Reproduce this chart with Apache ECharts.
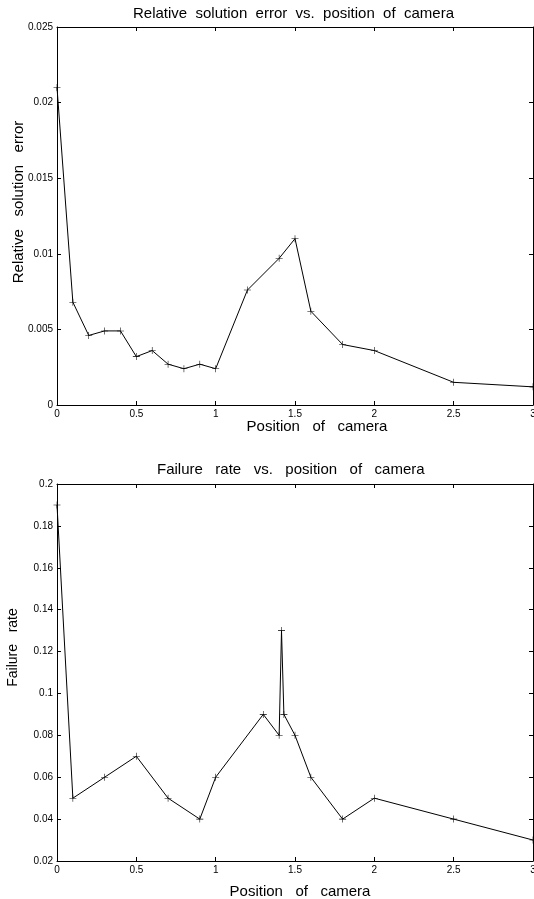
<!DOCTYPE html>
<html>
<head>
<meta charset="utf-8">
<script src="https://cdn.jsdelivr.net/npm/echarts@6/dist/echarts.min.js"></script>
<style>
  html, body { margin: 0; padding: 0; background: #fff; }
  #chart { width: 534px; height: 899px; }
</style>
</head>
<body>
<div id="chart"></div>
<script>
// top plot: relative solution error
var errX = [0, 0.1, 0.2, 0.3, 0.4, 0.5, 0.6, 0.7, 0.8, 0.9, 1.0, 1.2, 1.4, 1.5, 1.6, 1.8, 2.0, 2.5, 3.0];
var errY = [0.021, 0.0068, 0.0046, 0.0049, 0.0049, 0.0032, 0.0036, 0.0027, 0.0024, 0.0027, 0.0024,
            0.0076, 0.0097, 0.011, 0.0062, 0.0040, 0.0036, 0.0015, 0.0012];

// bottom plot: failure rate
var failX = [0, 0.1, 0.3, 0.5, 0.7, 0.9, 1.0, 1.3, 1.4, 1.415, 1.43, 1.5, 1.6, 1.8, 2.0, 2.5, 3.0];
var failY = [0.19, 0.05, 0.06, 0.07, 0.05, 0.04, 0.06, 0.09, 0.08, 0.13, 0.09, 0.08, 0.06, 0.04, 0.05, 0.04, 0.03];

var FONT = 'Liberation Sans';
var plus = 'path://M4.6,0H5.4V10H4.6Z M0,4.6H10V5.4H0Z';

function pairs(xs, ys) {
  var out = [];
  for (var i = 0; i < xs.length; i++) out.push([xs[i], ys[i]]);
  return out;
}

function xAxes(gi, name, gap, shift) {
  return [
    {
      gridIndex: gi, type: 'value', position: 'bottom', min: 0, max: 3, interval: 0.5,
      name: name, nameLocation: 'middle', nameGap: gap, nameMoveOverlap: false,
      nameTextStyle: { fontFamily: FONT, fontSize: 15, color: '#000', padding: [0, 0, 0, shift] },
      axisLine: { onZero: false, lineStyle: { color: '#000', width: 1 } },
      axisTick: { inside: true, length: 4, lineStyle: { color: '#000' } },
      axisLabel: { fontFamily: FONT, fontSize: 10, color: '#000', margin: 4 },
      splitLine: { show: false }
    },
    {
      gridIndex: gi, type: 'value', position: 'top', min: 0, max: 3, interval: 0.5,
      axisLine: { onZero: false, lineStyle: { color: '#000', width: 1 } },
      axisTick: { inside: true, length: 4, lineStyle: { color: '#000' } },
      axisLabel: { show: false },
      splitLine: { show: false }
    }
  ];
}

function yAxes(gi, name, min, max, step, gap, size, shift) {
  return [
    {
      gridIndex: gi, type: 'value', position: 'left', min: min, max: max, interval: step,
      name: name, nameLocation: 'middle', nameGap: gap, nameRotate: 90, nameMoveOverlap: false,
      nameTextStyle: { fontFamily: FONT, fontSize: size, color: '#000', padding: [0, 0, 0, shift] },
      axisLine: { show: true, onZero: false, lineStyle: { color: '#000', width: 1 } },
      axisTick: { show: true, inside: true, length: 4, lineStyle: { color: '#000' } },
      axisLabel: { fontFamily: FONT, fontSize: 10, color: '#000', margin: 4 },
      splitLine: { show: false }
    },
    {
      gridIndex: gi, type: 'value', position: 'right', min: min, max: max, interval: step,
      axisLine: { show: true, onZero: false, lineStyle: { color: '#000', width: 1 } },
      axisTick: { show: true, inside: true, length: 4, lineStyle: { color: '#000' } },
      axisLabel: { show: false },
      splitLine: { show: false }
    }
  ];
}

function lineSeries(xi, yi, data) {
  return {
    type: 'line', xAxisIndex: xi, yAxisIndex: yi, data: data,
    symbol: plus, symbolSize: 7, showAllSymbol: true,
    itemStyle: { color: '#000' },
    lineStyle: { color: '#000', width: 1 },
    silent: true
  };
}

var chart = echarts.init(document.getElementById('chart'));
chart.setOption({
  animation: false,
  backgroundColor: '#fff',
  title: [
    { text: 'Relative  solution  error  vs.  position  of  camera', left: 128, top: 1,
      textStyle: { fontFamily: FONT, fontSize: 15, fontWeight: 'normal', color: '#000' } },
    { text: 'Failure   rate   vs.   position   of   camera', left: 152, top: 457,
      textStyle: { fontFamily: FONT, fontSize: 15, fontWeight: 'normal', color: '#000' } }
  ],
  grid: [
    { left: 57, right: 1, top: 27, height: 378, containLabel: false, outerBoundsMode: 'none' },
    { left: 57, right: 1, top: 484, height: 377, containLabel: false, outerBoundsMode: 'none' }
  ],
  xAxis: xAxes(0, 'Position   of   camera', 14, 44).concat(xAxes(1, 'Position   of   camera', 23, 10)),
  yAxis: yAxes(0, 'Relative   solution   error', 0, 0.025, 0.005, 31, 15, 28)
    .concat(yAxes(1, 'Failure   rate', 0.02, 0.2, 0.02, 37, 14, 50)),
  series: [
    lineSeries(0, 0, pairs(errX, errY)),
    lineSeries(2, 2, pairs(failX, failY))
  ]
});
</script>
</body>
</html>
